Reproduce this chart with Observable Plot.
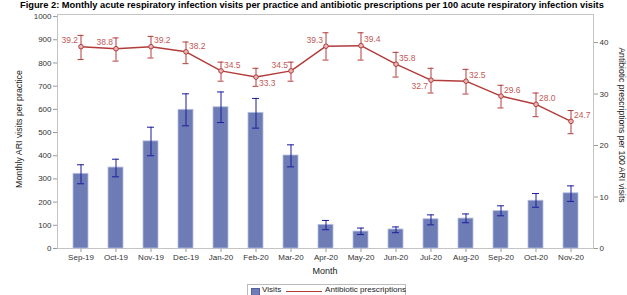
<!DOCTYPE html>
<html><head><meta charset="utf-8">
<script src="https://cdn.jsdelivr.net/npm/d3@7"></script>
<script src="https://cdn.jsdelivr.net/npm/@observablehq/plot@0.6"></script>
<style>
body{margin:0;background:#fff;font-family:"Liberation Sans",Arial,sans-serif;}
#wrap{position:relative;width:627px;height:295px;overflow:hidden;background:#fff;}
#wrap svg{position:absolute;left:0;top:0;}
.t{position:absolute;white-space:nowrap;color:#222;}
#title{left:20px;top:0px;font-weight:bold;font-size:9.3px;line-height:10px;color:#000;}
#ylab{left:19px;top:129px;transform:translate(-50%,-50%) rotate(-90deg);font-size:8.8px;}
#y2lab{left:622px;top:125px;transform:translate(-50%,-50%) rotate(90deg);font-size:8.6px;}
#xlab{left:325px;top:266px;transform:translateX(-50%);font-size:9px;}
#legend{left:247px;top:284px;width:157px;height:14px;border:1px solid #bbb;font-size:8.1px;color:#222;}
#legend span{position:absolute;top:0px;}
</style></head>
<body><div id="wrap"></div>
<script>
const months = ["Sep-19","Oct-19","Nov-19","Dec-19","Jan-20","Feb-20","Mar-20","Apr-20","May-20","Jun-20","Jul-20","Aug-20","Sep-20","Oct-20","Nov-20"];
const visits   = [322, 349, 462, 598, 609, 585, 401, 102, 73, 82, 126, 129, 161, 206, 238];
const visitsLo = [279, 309, 400, 529, 543, 519, 352, 81, 60, 68, 102, 111, 141, 178, 203];
const visitsHi = [361, 385, 523, 667, 675, 647, 447, 121, 88, 93, 145, 149, 184, 237, 270];
const abx   = [39.2, 38.8, 39.2, 38.2, 34.5, 33.3, 34.5, 39.3, 39.4, 35.8, 32.7, 32.5, 29.6, 28.0, 24.7];
const abxLo = [36.7, 36.4, 37.0, 35.9, 32.5, 31.5, 32.5, 36.6, 36.6, 33.3, 30.2, 30.0, 27.3, 25.6, 22.3];
const abxHi = [41.4, 40.9, 41.2, 40.1, 36.2, 35.0, 36.2, 41.9, 41.9, 38.1, 35.0, 34.8, 31.7, 30.2, 26.8];
const labelSide = ["L","L","R","R","R","RB","L","L","R","R","LB","R","R","R","R"];
const leftTicks = [0,100,200,300,400,500,600,700,800,900,1000];
const rightTicks = [0,10,20,30,40];

const K = 22.2; // left units per right unit
const data = months.map((m,i)=>({
  month:m, visits:visits[i], vLo:visitsLo[i], vHi:visitsHi[i],
  a:abx[i]*K, aLo:abxLo[i]*K, aHi:abxHi[i]*K, aVal:abx[i], side:labelSide[i]
}));
const red = "#b23c3a", blue = "#1c1c9e", labRed = "#bf5a57";
const fmt = d=>d.toFixed(1);

const chart = Plot.plot({
  width:627, height:295,
  marginLeft:57, marginRight:34, marginTop:14, marginBottom:47,
  style:{fontFamily:"Liberation Sans, Arial, sans-serif", fontSize:"8px", color:"#333", background:"white"},
  x:{type:"band", domain:months, paddingInner:0.58, paddingOuter:0.29},
  y:{domain:[0,1009]},
  marks:[
    Plot.frame({stroke:"#c4c4c4"}),
    Plot.axisY(leftTicks,{anchor:"left", tickSize:4, tickPadding:2, tickFormat:d=>String(d), label:null, stroke:"#999"}),
    Plot.axisY(rightTicks.map(v=>v*K),{anchor:"right", tickSize:4, tickPadding:2, tickFormat:d=>String(Math.round(d/K)), label:null, stroke:"#999"}),
    Plot.axisX({tickSize:4, tickPadding:2, label:null, stroke:"#999"}),
    Plot.barY(data,{x:"month", y:"visits", fill:"#6d7cb4", stroke:"#b7bfe0", strokeWidth:0.8}),
    Plot.ruleX(data,{x:"month", y1:"vLo", y2:"vHi", stroke:blue, strokeWidth:1}),
    Plot.tickY(data,{x:"month", y:"vLo", stroke:blue, strokeWidth:1, insetLeft:4, insetRight:4}),
    Plot.tickY(data,{x:"month", y:"vHi", stroke:blue, strokeWidth:1, insetLeft:4, insetRight:4}),
    Plot.ruleX(data,{x:"month", y1:"aLo", y2:"aHi", stroke:red, strokeWidth:1}),
    Plot.tickY(data,{x:"month", y:"aLo", stroke:red, strokeWidth:1, insetLeft:4.5, insetRight:4.5}),
    Plot.tickY(data,{x:"month", y:"aHi", stroke:red, strokeWidth:1, insetLeft:4.5, insetRight:4.5}),
    Plot.line(data,{x:"month", y:"a", stroke:red, strokeWidth:1.5}),
    Plot.dot(data,{x:"month", y:"a", r:2.3, stroke:red, strokeWidth:1, fill:"#e8b8b8"}),
    Plot.text(data.filter(d=>d.side==="R"),{x:"month", y:"a", text:d=>fmt(d.aVal), dx:3, dy:-6, textAnchor:"start", fill:labRed, fontSize:8.5}),
    Plot.text(data.filter(d=>d.side==="L"),{x:"month", y:"a", text:d=>fmt(d.aVal), dx:-3, dy:-6, textAnchor:"end", fill:labRed, fontSize:8.5}),
    Plot.text(data.filter(d=>d.side==="RB"),{x:"month", y:"a", text:d=>fmt(d.aVal), dx:3, dy:6, textAnchor:"start", fill:labRed, fontSize:8.5}),
    Plot.text(data.filter(d=>d.side==="LB"),{x:"month", y:"a", text:d=>fmt(d.aVal), dx:-3, dy:6, textAnchor:"end", fill:labRed, fontSize:8.5})
  ]
});
const wrap = document.getElementById("wrap");
wrap.appendChild(chart);
const add = (id, html)=>{const d=document.createElement("div"); d.className="t"; d.id=id; d.innerHTML=html; wrap.appendChild(d); return d;};
add("title","Figure 2: Monthly acute respiratory infection visits per practice and antibiotic prescriptions per 100 acute respiratory infection visits");
add("ylab","Monthly ARI visits per practice");
add("y2lab","Antibiotic prescriptions per 100 ARI visits");
add("xlab","Month");
add("legend",'<span style="left:3px;top:3px;width:7px;height:7px;background:#6d7cb4;border:0.5px solid #5060a0"></span><span style="left:14px">Visits</span><span style="left:38px;top:6px;width:36px;height:0;border-top:1.5px solid '+red+'"></span><span style="left:77px">Antibiotic prescriptions</span>');
</script>
</body></html>
